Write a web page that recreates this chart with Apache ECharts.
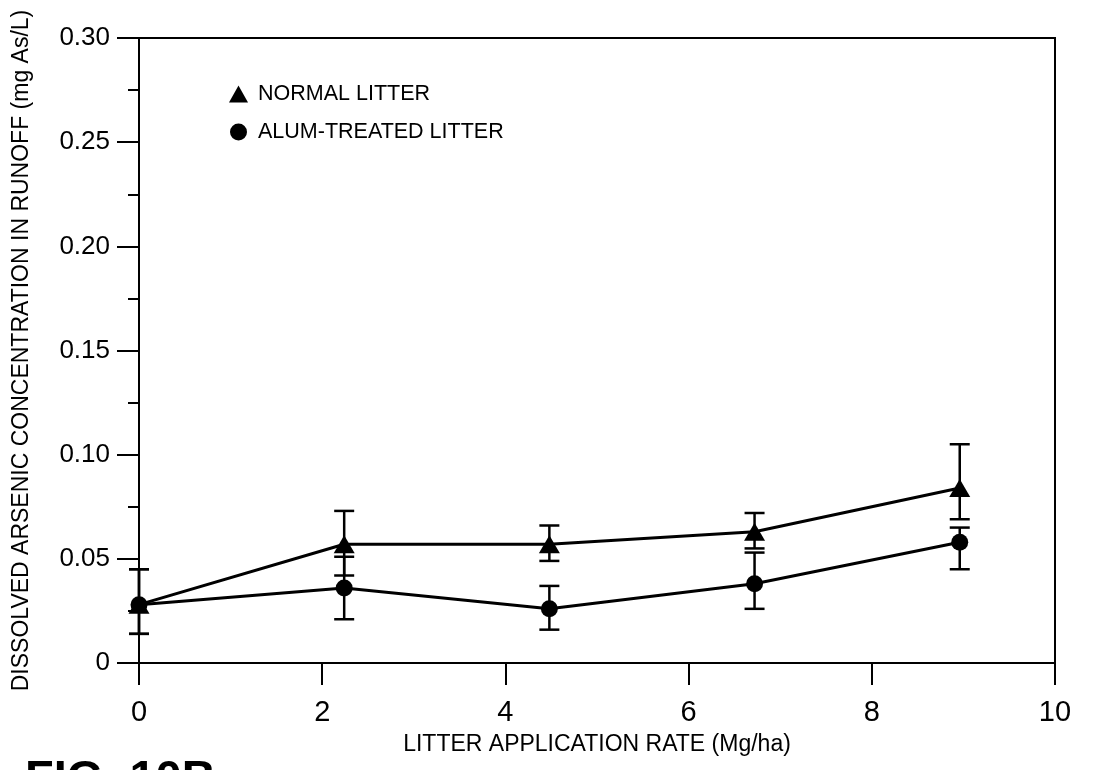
<!DOCTYPE html>
<html>
<head>
<meta charset="utf-8">
<script src="https://cdn.jsdelivr.net/npm/echarts@6/dist/echarts.min.js"></script>
<style>
html,body{margin:0;padding:0;background:#fff;}
#chart{width:1094px;height:770px;}
</style>
</head>
<body>
<div id="chart"></div>
<script>
// Data
var rates = [0, 2.24, 4.48, 6.72, 8.96];
var normalLitter = [0.028, 0.057, 0.057, 0.063, 0.084];
var normalLow    = [0.014, 0.042, 0.049, 0.055, 0.069];
var normalHigh   = [0.045, 0.073, 0.066, 0.072, 0.105];
var alumLitter   = [0.028, 0.036, 0.026, 0.038, 0.058];
var alumLow      = [0.014, 0.021, 0.016, 0.026, 0.045];
var alumHigh     = [0.045, 0.051, 0.037, 0.053, 0.065];
var seriesNames = ['NORMAL LITTER', 'ALUM-TREATED LITTER'];
var xTitle = 'LITTER APPLICATION RATE (Mg/ha)';
var yTitle = 'DISSOLVED ARSENIC CONCENTRATION IN RUNOFF (mg As/L)';
var figLabel = 'FIG. 10B';

var FONT = '"Liberation Sans", Arial, sans-serif';
var NARROW = '"Liberation Sans Narrow", "Liberation Sans", Arial, sans-serif';

function pairs(xs, ys){ return xs.map(function(x,i){ return [x, ys[i]]; }); }
function errData(xs, lo, hi){ return xs.map(function(x,i){ return [x, lo[i], hi[i]]; }); }

function errRender(params, api){
  var x = api.value(0);
  var pLo = api.coord([x, api.value(1)]);
  var pHi = api.coord([x, api.value(2)]);
  var hw = 10;
  var st = {stroke:'#000', lineWidth:2.5};
  return {type:'group', children:[
    {type:'line', shape:{x1:pLo[0], y1:pLo[1], x2:pHi[0], y2:pHi[1]}, style:st},
    {type:'line', shape:{x1:pLo[0]-hw, y1:pLo[1], x2:pLo[0]+hw, y2:pLo[1]}, style:st},
    {type:'line', shape:{x1:pHi[0]-hw, y1:pHi[1], x2:pHi[0]+hw, y2:pHi[1]}, style:st}
  ]};
}

var chart = echarts.init(document.getElementById('chart'));
chart.setOption({
  backgroundColor:'#fff',
  animation:false,
  grid:{left:139, right:39, top:38, bottom:107, show:true, borderColor:'#000', borderWidth:2, backgroundColor:'transparent'},
  legend:{
    left:224, top:78, orient:'vertical', itemGap:16, itemWidth:19, itemHeight:17,
    data:[{name:seriesNames[0], icon:'triangle'},{name:seriesNames[1], icon:'circle'}],
    textStyle:{fontFamily:NARROW, fontSize:21.5, color:'#000', padding:[0,0,0,5]}
  },
  xAxis:{
    type:'value', min:0, max:10, interval:2,
    name:xTitle, nameLocation:'middle', nameGap:70,
    nameTextStyle:{fontFamily:FONT, fontSize:23, color:'#000'},
    axisLine:{show:true, lineStyle:{color:'#000', width:2}},
    axisTick:{show:true, length:22, lineStyle:{color:'#000', width:2}},
    axisLabel:{margin:35, fontFamily:NARROW, fontSize:29, color:'#000'},
    splitLine:{show:false}
  },
  yAxis:{
    type:'value', min:0, max:0.30, interval:0.05,
    name:yTitle, nameLocation:'middle', nameGap:106, nameRotate:90,
    nameTextStyle:{fontFamily:FONT, fontSize:23, color:'#000'},
    axisLine:{show:true, lineStyle:{color:'#000', width:2}},
    axisTick:{show:true, length:22, lineStyle:{color:'#000', width:2}},
    minorTick:{show:true, splitNumber:2, length:11, lineStyle:{color:'#000', width:2}},
    axisLabel:{margin:29, fontFamily:FONT, fontSize:26, color:'#000',
      formatter:function(v){ return v===0 ? '0' : v.toFixed(2); }},
    splitLine:{show:false}
  },
  graphic:[{
    type:'text', left:25, top:757,
    style:{text:figLabel, font:'bold 47px "Liberation Sans", Arial, sans-serif', fill:'#000'}
  }],
  series:[
    {name:seriesNames[0], type:'line', data:pairs(rates, normalLitter), symbol:'triangle', symbolSize:[21,18],
     itemStyle:{color:'#000'}, lineStyle:{color:'#000', width:3}, z:3},
    {name:seriesNames[1], type:'line', data:pairs(rates, alumLitter), symbol:'circle', symbolSize:17,
     itemStyle:{color:'#000'}, lineStyle:{color:'#000', width:3}, z:3},
    {name:'errN', type:'custom', renderItem:errRender, data:errData(rates, normalLow, normalHigh), z:2},
    {name:'errA', type:'custom', renderItem:errRender, data:errData(rates, alumLow, alumHigh), z:2}
  ]
});
</script>
</body>
</html>
